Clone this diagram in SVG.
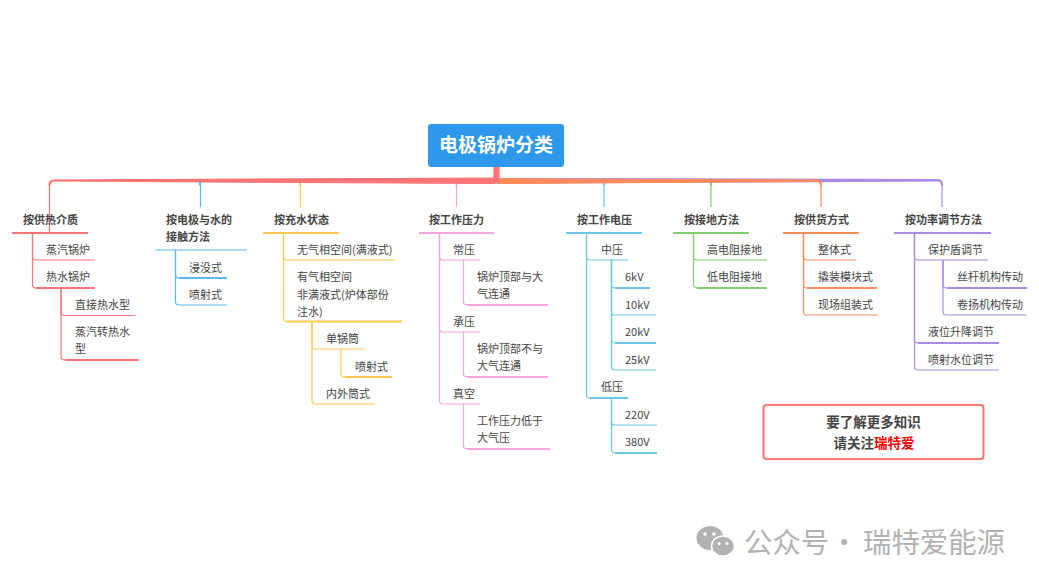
<svg xmlns="http://www.w3.org/2000/svg" width="1039" height="585" viewBox="0 0 1039 585">
<style>
text{font-family:"Noto Sans CJK SC","Noto Sans",sans-serif;font-size:11px;fill:#444}
.h{font-weight:700}
path,line{fill:none;stroke-width:1.2}
.t{stroke-width:2}
.b{stroke:none}
.b.c1{fill:#ff7474}.b.c2{fill:#5cb8f5}.b.c3{fill:#ffc84f}.b.c4{fill:#f4a6de}.b.c5{fill:#6ac8e6}.b.c6{fill:#7ed06e}.b.c7{fill:#ff8a5c}.b.c8{fill:#a98ae6}
.c1{stroke:#ff7474}.c2{stroke:#5cb8f5}.c3{stroke:#ffc84f}.c4{stroke:#f4a6de}.c5{stroke:#6ac8e6}.c6{stroke:#7ed06e}.c7{stroke:#ff8a5c}.c8{stroke:#a98ae6}
.wm{font-size:28.400px;fill:#b2b2b2}
</style>
<rect width="1039" height="585" fill="#fff"/>
<g id="connectors">
<path class="b c6" d="M496 179L711.500 180V185H710.500V181.500L496 183Z"/>
<path class="b c5" d="M496 179L604.500 180V185H603.500V181.500L496 183Z"/>
<path class="b c8" d="M496 178.500L938 179.500Q942.500 180 942.500 185H941.500Q941.500 181 938 181L496 183Z"/>
<path class="b c7" d="M498 178.500L560 179L817 180Q821.500 180.500 821.500 185H820.500Q820.500 181.300 817 181.300L498 183.500Z"/>
<path class="b c4" d="M496 179L457 180V185H456V181.500L496 183Z"/>
<path class="b c3" d="M496 178.500L300.500 180V185H299.500V181.500L496 183Z"/>
<path class="b c2" d="M496 178.500L204 180Q200.500 180.500 200.500 185H199.500V181.500L496 183Z"/>
<path class="b c1" d="M494 178L54 180Q49 180.300 49 185H50Q50 181 54 181L494 183.500Z"/>
<path class="b c1" d="M494 167H499V181L494 183.500Z"/>
<path class="c1" d="M49.500 184V233"/><path class="c2" d="M200.500 184V207"/><path class="c3" d="M300.500 184V207"/><path class="c4" d="M456.500 184V207"/><path class="c5" d="M604 184V207"/><path class="c6" d="M711 184V207"/><path class="c7" d="M821 184V207"/><path class="c8" d="M942 184V207"/>
<g class="c1"><path class="c1" d="M32.500 233V256.500Q32.500 260 36 260"/><path class="c1" d="M32.500 233V284.500Q32.500 288 36 288"/><path class="c1" d="M61 288V311.500Q61 315.500 65 315.500"/><path class="c1" d="M61 288V356.500Q61 360 65 360"/></g>
<path class="c2" d="M175.500 250V274.500Q175.500 278 179 278"/><path class="c2" d="M175.500 250V301.500Q175.500 305 179 305"/>
<path class="c3" d="M283.500 233V256.500Q283.500 260 287 260"/><path class="c3" d="M283.500 233V318Q283.500 321.500 287 321.500"/><path class="c3" d="M312 321.500V345.500Q312 349 315.500 349"/><path class="c3" d="M312 321.500V400.500Q312 404 315.500 404"/><path class="c3" d="M341 349V373.500Q341 377 344.500 377"/>
<path class="c4" d="M439.500 233V256.500Q439.500 260 443 260"/><path class="c4" d="M439.500 233V328.500Q439.500 332 443 332"/><path class="c4" d="M439.500 233V400.500Q439.500 404 443 404"/><path class="c4" d="M463.500 260V301.500Q463.500 305 467 305"/><path class="c4" d="M463.500 332V373.500Q463.500 377 467 377"/><path class="c4" d="M463.500 404V445.500Q463.500 449 467 449"/>
<path class="c5" d="M586.500 233V256.500Q586.500 260 590 260"/><path class="c5" d="M586.500 233V394.500Q586.500 398 590 398"/><path class="c5" d="M611.500 260V284.500Q611.500 288 615 288"/><path class="c5" d="M611.500 260V311.500Q611.500 315 615 315"/><path class="c5" d="M611.500 260V339.500Q611.500 343 615 343"/><path class="c5" d="M611.500 260V366.500Q611.500 370 615 370"/><path class="c5" d="M611.500 398V421.500Q611.500 425 615 425"/><path class="c5" d="M611.500 398V449.500Q611.500 453 615 453"/>
<path class="c6" d="M693.500 233V256.500Q693.500 260 697 260"/><path class="c6" d="M693.500 233V284.500Q693.500 288 697 288"/>
<path class="c7" d="M803.500 233V256.500Q803.500 260 807 260"/><path class="c7" d="M803.500 233V284.500Q803.500 288 807 288"/><path class="c7" d="M803.500 233V311.500Q803.500 315 807 315"/>
<path class="c8" d="M914.500 233V256.500Q914.500 260 918 260"/><path class="c8" d="M914.500 233V339.500Q914.500 343 918 343"/><path class="c8" d="M914.500 233V366.500Q914.500 370 918 370"/><path class="c8" d="M943 260V284.500Q943 288 946.500 288"/><path class="c8" d="M943 260V311.500Q943 315 946.500 315"/>
</g>
<g id="root"><rect x="428" y="124" width="136" height="43" rx="3" fill="#2e99ec"/><text x="496" y="152" text-anchor="middle" style="font-size:19px;font-weight:700;fill:#fff">电极锅炉分类</text></g>

<g id="t1"><text class="h" x="23" y="223.500">按供热介质</text><line class="c1 t" x1="12" y1="233" x2="88" y2="233"/></g>
<g id="t1a"><text x="46" y="254">蒸汽锅炉</text><line class="c1" x1="36" y1="260" x2="95" y2="260"/></g>
<g id="t1b"><text x="46" y="281">热水锅炉</text><line class="c1 t" x1="36" y1="288" x2="95" y2="288"/></g>
<g id="t1b1"><text x="75" y="309">直接热水型</text><line class="c1" x1="65" y1="315.500" x2="135" y2="315.500"/></g>
<g id="t1b2"><text x="75" y="336">蒸汽转热水</text><text x="75" y="353">型</text><line class="c1 t" x1="65" y1="360" x2="139" y2="360"/></g>

<g id="t2"><text class="h" x="166" y="223.500">按电极与水的</text><text class="h" x="166" y="241">接触方法</text><line class="c2" x1="155" y1="250" x2="247" y2="250"/></g>
<g id="t2a"><text x="189" y="272">浸没式</text><line class="c2 t" x1="179" y1="278" x2="227" y2="278"/></g>
<g id="t2b"><text x="189" y="299">喷射式</text><line class="c2" x1="179" y1="305" x2="227" y2="305"/></g>

<g id="t3"><text class="h" x="274" y="223.500">按充水状态</text><line class="c3 t" x1="263" y1="233" x2="339" y2="233"/></g>
<g id="t3a"><text x="297" y="254">无气相空间(满液式)</text><line class="c3" x1="287" y1="260" x2="396" y2="260"/></g>
<g id="t3b"><text x="297" y="281">有气相空间</text><text x="297" y="299">非满液式(炉体部份</text><text x="297" y="316">注水)</text><line class="c3 t" x1="287" y1="321.500" x2="402" y2="321.500"/></g>
<g id="t3b1"><text x="326" y="343">单锅筒</text><line class="c3" x1="315.500" y1="349" x2="364" y2="349"/></g>
<g id="t3b1a"><text x="355" y="371">喷射式</text><line class="c3 t" x1="344.500" y1="377" x2="392" y2="377"/></g>
<g id="t3b2"><text x="326" y="398">内外筒式</text><line class="c3" x1="315.500" y1="404" x2="375" y2="404"/></g>

<g id="t4"><text class="h" x="429" y="223.500">按工作压力</text><line class="c4 t" x1="419" y1="233" x2="494" y2="233"/></g>
<g id="t4a"><text x="453" y="254">常压</text><line class="c4" x1="443" y1="260" x2="480" y2="260"/></g>
<g id="t4a1"><text x="477" y="281">锅炉顶部与大</text><text x="477" y="298">气连通</text><line class="c4 t" x1="467" y1="305" x2="548" y2="305"/></g>
<g id="t4b"><text x="453" y="326">承压</text><line class="c4" x1="443" y1="332" x2="480" y2="332"/></g>
<g id="t4b1"><text x="477" y="353">锅炉顶部不与</text><text x="477" y="370">大气连通</text><line class="c4 t" x1="467" y1="377" x2="548" y2="377"/></g>
<g id="t4c"><text x="453" y="398">真空</text><line class="c4" x1="443" y1="404" x2="480" y2="404"/></g>
<g id="t4c1"><text x="477" y="425">工作压力低于</text><text x="477" y="442">大气压</text><line class="c4 t" x1="467" y1="449" x2="550" y2="449"/></g>

<g id="t5"><text class="h" x="577" y="223.500">按工作电压</text><line class="c5 t" x1="566" y1="233" x2="642" y2="233"/></g>
<g id="t5a"><text x="601" y="254">中压</text><line class="c5" x1="590" y1="260" x2="628" y2="260"/></g>
<g id="t5a1"><text x="625" y="281">6kV</text><line class="c5 t" x1="615" y1="288" x2="650" y2="288"/></g>
<g id="t5a2"><text x="625" y="309">10kV</text><line class="c5" x1="615" y1="315" x2="656" y2="315"/></g>
<g id="t5a3"><text x="625" y="336">20kV</text><line class="c5 t" x1="615" y1="343" x2="656" y2="343"/></g>
<g id="t5a4"><text x="625" y="364">25kV</text><line class="c5" x1="615" y1="370" x2="656" y2="370"/></g>
<g id="t5b"><text x="601" y="391">低压</text><line class="c5 t" x1="590" y1="398" x2="628" y2="398"/></g>
<g id="t5b1"><text x="625" y="419">220V</text><line class="c5" x1="615" y1="425" x2="657" y2="425"/></g>
<g id="t5b2"><text x="625" y="446">380V</text><line class="c5 t" x1="615" y1="453" x2="657" y2="453"/></g>

<g id="t6"><text class="h" x="684" y="223.500">按接地方法</text><line class="c6 t" x1="673" y1="233" x2="749" y2="233"/></g>
<g id="t6a"><text x="707" y="254">高电阻接地</text><line class="c6" x1="697" y1="260" x2="767" y2="260"/></g>
<g id="t6b"><text x="707" y="281">低电阻接地</text><line class="c6 t" x1="697" y1="288" x2="767" y2="288"/></g>

<g id="t7"><text class="h" x="794" y="223.500">按供货方式</text><line class="c7 t" x1="783" y1="233" x2="859" y2="233"/></g>
<g id="t7a"><text x="818" y="254">整体式</text><line class="c7" x1="807" y1="260" x2="856" y2="260"/></g>
<g id="t7b"><text x="818" y="281">撬装模块式</text><line class="c7 t" x1="807" y1="288" x2="877" y2="288"/></g>
<g id="t7c"><text x="818" y="309">现场组装式</text><line class="c7" x1="807" y1="315" x2="878" y2="315"/></g>

<g id="t8"><text class="h" x="905" y="223.500">按功率调节方法</text><line class="c8 t" x1="894" y1="233" x2="991" y2="233"/></g>
<g id="t8a"><text x="928" y="254">保护盾调节</text><line class="c8" x1="918" y1="260" x2="988" y2="260"/></g>
<g id="t8a1"><text x="957" y="281">丝杆机构传动</text><line class="c8 t" x1="946.500" y1="288" x2="1027" y2="288"/></g>
<g id="t8a2"><text x="957" y="309">卷扬机构传动</text><line class="c8" x1="946.500" y1="315" x2="1027" y2="315"/></g>
<g id="t8b"><text x="928" y="336">液位升降调节</text><line class="c8 t" x1="918" y1="343" x2="999" y2="343"/></g>
<g id="t8c"><text x="928" y="364">喷射水位调节</text><line class="c8" x1="918" y1="370" x2="999" y2="370"/></g>

<g id="note"><rect x="763.500" y="405" width="220" height="54" rx="3" fill="#fff" stroke="#ff7474" stroke-width="2"/>
<text x="873.500" y="427" text-anchor="middle" class="h" style="font-size:13.500px">要了解更多知识</text>
<text x="874" y="448" text-anchor="middle" class="h" style="font-size:13.500px">请关注<tspan style="fill:#f00">瑞特爱</tspan></text></g>

<g id="watermark">
<ellipse cx="710" cy="538" rx="13.500" ry="12" fill="#b2b2b2"/><path d="M702 546L703 553L709 549Z" fill="#b2b2b2" stroke="none"/>
<circle cx="705" cy="534" r="1.800" fill="#fff"/><circle cx="714" cy="534" r="1.800" fill="#fff"/>
<ellipse cx="723" cy="546" rx="11.500" ry="10" fill="#b2b2b2" stroke="#fff" stroke-width="1.500"/><path d="M727 554L732 558L731 551Z" fill="#b2b2b2" stroke="none"/>
<circle cx="719" cy="543.500" r="1.500" fill="#fff"/><circle cx="727" cy="543.500" r="1.500" fill="#fff"/>
<text class="wm" x="744" y="553">公众号</text><text class="wm" x="830" y="553">·</text><text class="wm" x="863" y="553">瑞特爱能源</text>
</g>
</svg>
